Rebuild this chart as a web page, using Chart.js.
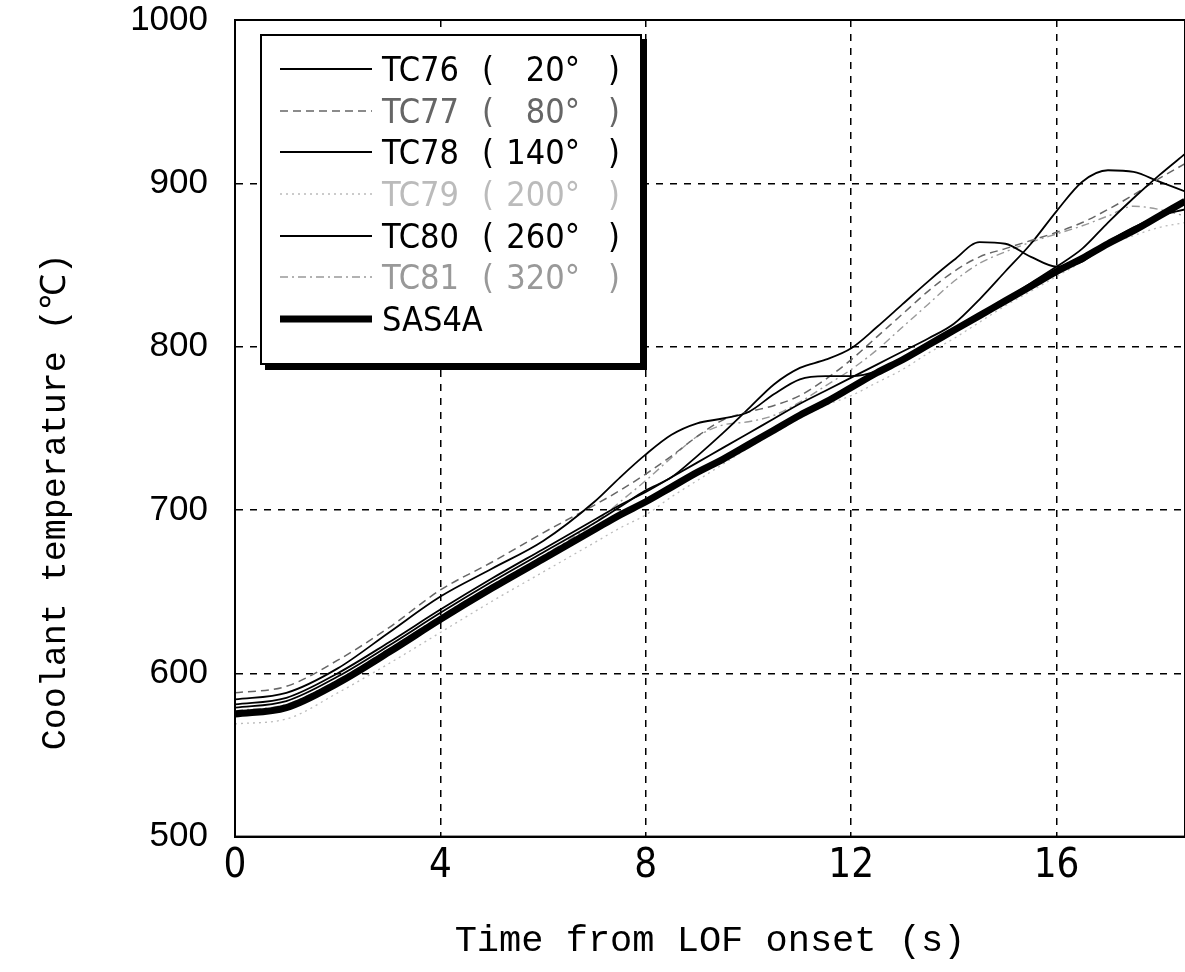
<!DOCTYPE html>
<html>
<head>
<meta charset="utf-8">
<script src="https://cdn.jsdelivr.net/npm/chart.js@4.4.1/dist/chart.umd.min.js"></script>
<style>
  html, body { margin: 0; padding: 0; background: #fff; }
  #wrap { position: relative; width: 1185px; height: 972px; overflow: hidden; }
  #legend {
    position: absolute; left: 260px; top: 34px; width: 378px; height: 315px;
    border: 2px solid #000; box-shadow: 5px 5px 0 #000; background: #fff;
    padding-top: 12px; box-sizing: content-box;
    font-family: "DejaVu Sans Condensed", "Liberation Sans", sans-serif; font-size: 34px;
  }
  .row { display: flex; align-items: center; height: 41.7px; white-space: pre; }
  .row svg { margin-left: 18px; margin-right: 10px; }
  .nm { width: 100px; }
  .lp { width: 20px; }
  .ang { width: 78px; text-align: right; }
  .rp { margin-left: 28px; }
</style>
</head>
<body>
<div id="wrap">
  <canvas id="c" width="1185" height="972"></canvas>
  <div id="legend"></div>
</div>
<script>
// time from LOF onset (s)
const times = [0, 1, 2, 3, 4, 5, 6, 7, 7.5, 8, 8.5, 9, 9.5, 10, 10.5, 11, 11.5, 12, 12.5, 13, 13.5, 14, 14.5, 15, 15.5, 16, 16.5, 17, 17.5, 18, 18.5];

// coolant temperature (°C)
const tc76 = [584, 588, 603, 625, 647, 664, 681, 705, 720, 734, 746, 753, 756, 760, 771, 780, 782, 782, 785, 793, 802, 811, 820, 829, 839, 849, 860, 876, 891, 905, 918];
const tc77 = [588, 592, 608, 628, 651, 668, 686, 703, 712, 722, 733, 745, 755, 760, 764, 770, 780, 792, 806, 820, 834, 846, 855, 860, 865, 870, 876, 884, 893, 903, 912];
const tc78 = [579, 583, 598, 617, 637, 656, 674, 692, 702, 712, 720, 733, 747, 762, 777, 787, 792, 799, 812, 826, 840, 853, 864, 863, 855, 849, 852, 864, 873, 880, 884];
const tc79 = [569, 572, 588, 606, 625, 644, 662, 680, 689, 697, 708, 718, 728, 738, 747, 756, 764, 770, 778, 786, 796, 805, 815, 825, 834, 843, 852, 862, 868, 873, 876];
const tc80 = [581, 585, 600, 619, 639, 658, 676, 694, 703, 711, 720, 729, 738, 747, 756, 765, 773, 781, 789, 797, 805, 814, 829, 846, 863, 883, 901, 908, 907, 901, 895];
const tc81 = [577, 581, 596, 615, 635, 654, 672, 692, 705, 718, 732, 745, 752, 754, 758, 766, 776, 786, 798, 812, 826, 840, 851, 858, 864, 869, 874, 880, 886, 884, 880];
const sas4a = [575, 579, 594, 613, 633, 652, 670, 688, 697, 705, 714, 723, 731, 740, 749, 758, 766, 775, 784, 792, 801, 810, 819, 828, 837, 846, 854, 863, 871, 880, 889];

const names = ["TC76", "TC77", "TC78", "TC79", "TC80", "TC81", "SAS4A"];
const angles = ["20°", "80°", "140°", "200°", "260°", "320°", ""];

const xTicks = [0, 4, 8, 12, 16];
const yTicks = [500, 600, 700, 800, 900, 1000];

function points(values) {
  return values.map((v, i) => ({ x: times[i], y: v }));
}

function makeSet(i, values, color, width, dash) {
  return {
    label: names[i],
    angle: angles[i],
    data: points(values),
    borderColor: color,
    borderWidth: width,
    borderDash: dash,
    pointRadius: 0,
    cubicInterpolationMode: "monotone",
    fill: false,
    order: i === 6 ? 0 : 1
  };
}

const datasets = [
  makeSet(0, tc76, "#000", 1.8, []),
  makeSet(1, tc77, "#666", 1.5, [8, 5]),
  makeSet(2, tc78, "#000", 1.8, []),
  makeSet(3, tc79, "#bbb", 1.3, [2, 4]),
  makeSet(4, tc80, "#000", 1.8, []),
  makeSet(5, tc81, "#999", 1.4, [8, 4, 2, 4]),
  makeSet(6, sas4a, "#000", 7, [])
];

// solid frame round the plot area
const framePlugin = {
  id: "frame",
  afterDatasetsDraw(chart) {
    const a = chart.chartArea;
    const ctx = chart.ctx;
    ctx.save();
    ctx.strokeStyle = "#000";
    ctx.lineWidth = 2;
    ctx.strokeRect(a.left, a.top, a.right - a.left, a.bottom - a.top);
    ctx.restore();
  }
};

const gridDash = [7, 7];

const chart = new Chart(document.getElementById("c"), {
  type: "line",
  data: { datasets: datasets },
  plugins: [framePlugin],
  options: {
    responsive: false,
    animation: false,
    devicePixelRatio: 1,
    layout: { padding: { top: 20, right: 0, bottom: 4, left: 0 } },
    plugins: {
      legend: { display: false },
      tooltip: { enabled: false }
    },
    scales: {
      x: {
        type: "linear",
        min: 0,
        max: 18.5,
        afterBuildTicks: (s) => { s.ticks = xTicks.map((v) => ({ value: v })); },
        ticks: {
          color: "#000",
          padding: 6,
          callback: (v) => String(v),
          font: { family: "'DejaVu Sans Condensed', 'Liberation Sans', sans-serif", size: 40 }
        },
        grid: { color: "#000", lineWidth: 1.5, drawTicks: false },
        border: { color: "#000", width: 2, dash: gridDash },
        title: {
          display: true,
          text: "Time from LOF onset (s)",
          color: "#000",
          padding: { top: 22, bottom: 5 },
          font: { family: "'Liberation Mono', monospace", size: 37 }
        }
      },
      y: {
        min: 500,
        max: 1000,
        afterBuildTicks: (s) => { s.ticks = yTicks.map((v) => ({ value: v })); },
        afterFit: (s) => {
          s.width = 235;
          s.paddingTop = 0;
          s.paddingBottom = 0;
        },
        ticks: {
          color: "#000",
          padding: 27,
          callback: (v) => String(v),
          font: { family: "'Liberation Sans', sans-serif", size: 35, lineHeight: 1 }
        },
        grid: { color: "#000", lineWidth: 1.5, drawTicks: false },
        border: { color: "#000", width: 2, dash: gridDash },
        title: {
          display: true,
          text: "Coolant temperature (℃)       ",
          color: "#000",
          padding: { top: 35, bottom: 0 },
          font: { family: "'Liberation Mono', monospace", size: 35 }
        }
      }
    }
  }
});

function buildLegend(chart) {
  const box = document.getElementById("legend");
  chart.data.datasets.forEach((ds) => {
    const row = document.createElement("div");
    row.className = "row";
    row.style.color = ds.borderColor;
    const svg = '<svg width="92" height="10"><line x1="0" y1="5" x2="92" y2="5" stroke="' + ds.borderColor +
      '" stroke-width="' + ds.borderWidth + '" stroke-dasharray="' + ds.borderDash.join(" ") + '"/></svg>';
    let html = svg + '<span class="nm">' + ds.label + '</span>';
    if (ds.angle) {
      html += '<span class="lp">(</span><span class="ang">' + ds.angle + '</span><span class="rp">)</span>';
    }
    row.innerHTML = html;
    box.appendChild(row);
  });
}

buildLegend(chart);
</script>
</body>
</html>
